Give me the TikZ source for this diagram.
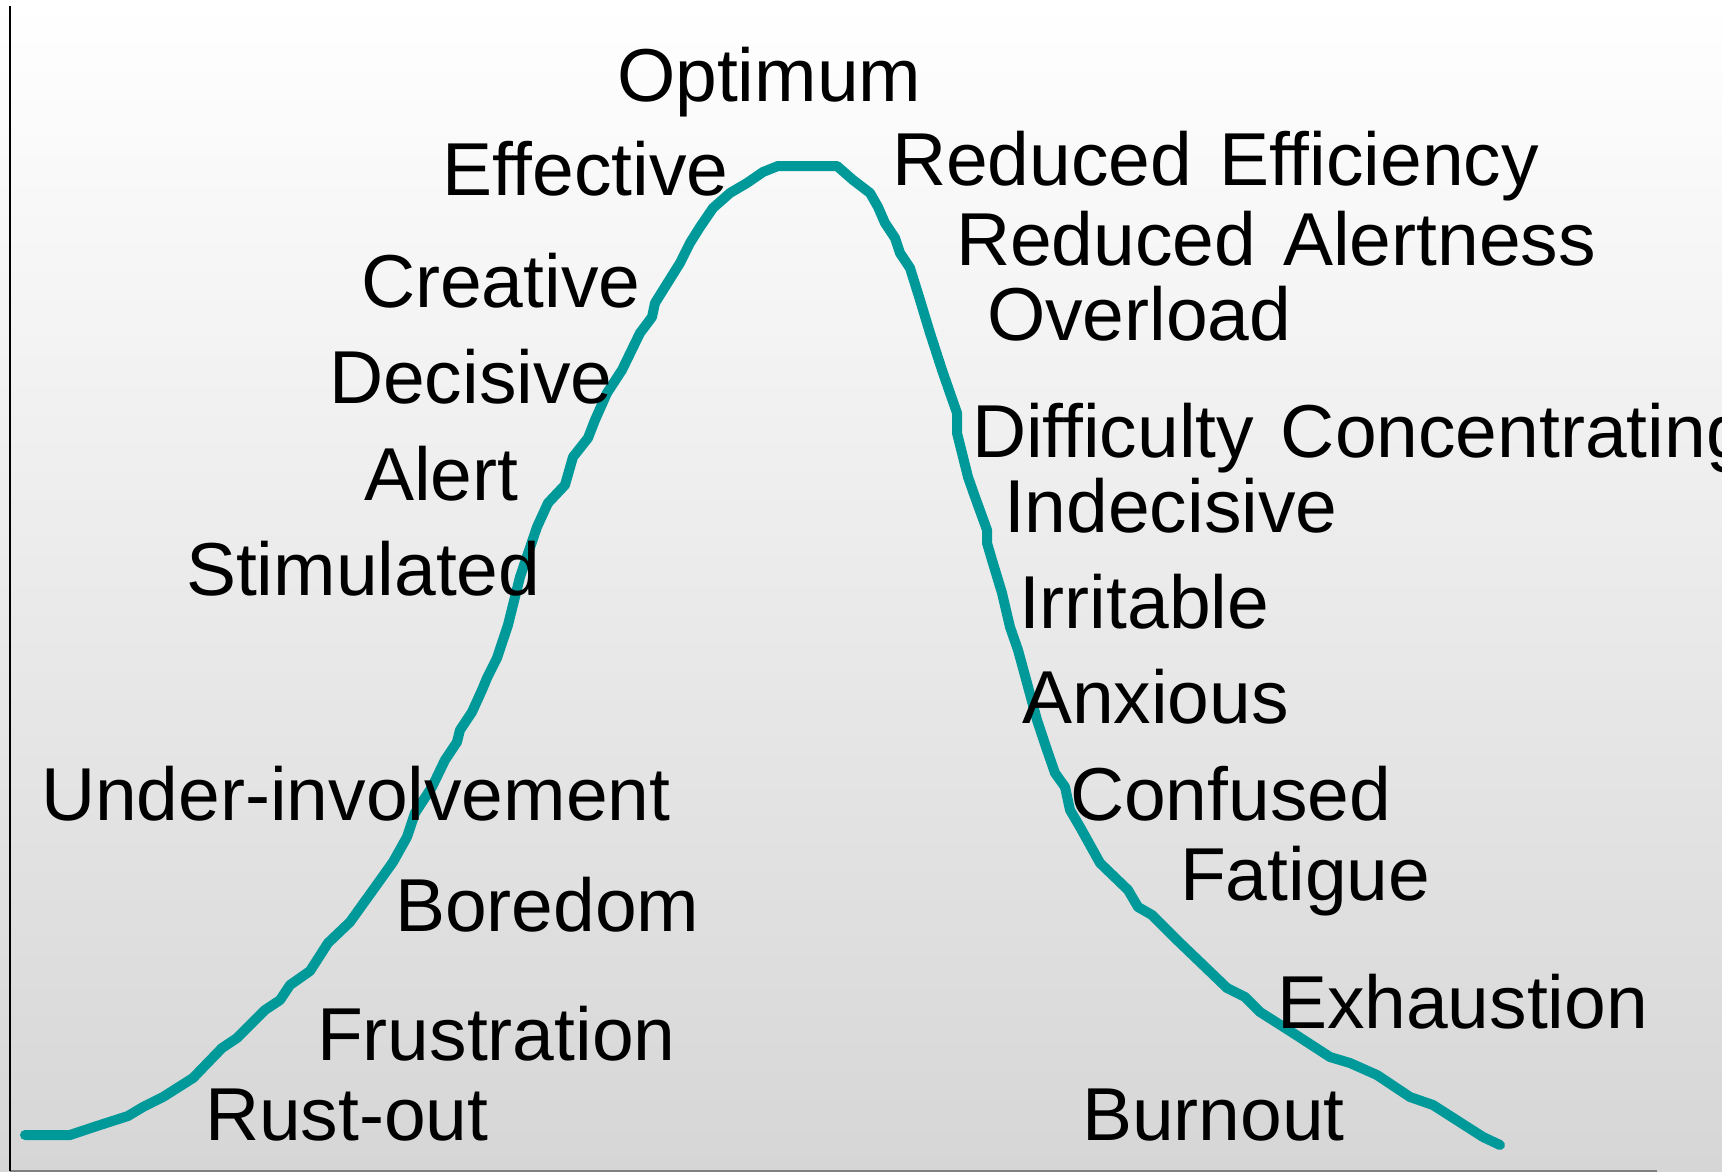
\documentclass[tikz,border=0pt]{standalone}
\usepackage{fontspec}
\setmainfont[Ligatures=NoCommon]{Liberation Sans}
\definecolor{curveteal}{RGB}{0,153,153}
\definecolor{bgbottom}{RGB}{214,214,214}
\definecolor{axisgray}{RGB}{128,128,128}
\newcommand{\labelfont}{\fontsize{75}{80}\selectfont\spaceskip 27pt\relax}
\begin{document}
\begin{tikzpicture}[x=1pt,y=-1pt,
  lbl/.style={anchor=base west,inner sep=0pt,outer sep=0pt,
    font=\labelfont,text=black},
  stresscurve/.style={draw=curveteal,line width=10pt,line cap=round,line join=round}]
\useasboundingbox (0,0) rectangle (1722,1172);
\clip (0,0) rectangle (1722,1172);
% background gradient
\shade[top color=white,bottom color=bgbottom] (0,0) rectangle (1722,1172);
% axes
\coordinate (ytop) at (10,6);
\coordinate (origin) at (10,1171);
\coordinate (xend) at (1657,1171);
\draw[axisgray,line width=2pt] (origin) -- (xend);
\draw[black,line width=2.5pt] (ytop) -- (origin);
% performance curve
\draw[stresscurve] (25,1135) -- (70,1135) -- (97,1126) -- (128,1116) -- (143,1107)
  -- (163,1097) -- (193,1078) -- (222,1048) -- (237,1038) -- (265,1010) -- (280,1000)
  -- (290,985) -- (310,971) -- (328,943) -- (350,922) -- (373,890) -- (393,862)
  -- (407,837) -- (415,813) -- (432,787) -- (445,760) -- (457,742) -- (460,730)
  -- (472,712) -- (482,690) -- (487,678) -- (497,658) -- (508,625) -- (520,577)
  -- (537,527) -- (548,503) -- (565,485) -- (573,457) -- (588,438) -- (595,420)
  -- (607,393) -- (622,370) -- (640,333) -- (652,317) -- (655,303) -- (680,263)
  -- (690,243) -- (700,227) -- (713,208) -- (730,193) -- (747,183) -- (763,172)
  -- (778,166) -- (837,166) -- (853,180) -- (870,193) -- (878,207) -- (885,223)
  -- (895,238) -- (900,253) -- (910,268) -- (920,300) -- (930,333) -- (942,370)
  -- (950,393) -- (957,413) -- (957,433) -- (963,457) -- (968,477) -- (975,497)
  -- (987,530) -- (987,543) -- (992,560) -- (1002,593) -- (1010,627) -- (1018,650)
  -- (1027,683) -- (1037,720) -- (1047,750) -- (1055,773) -- (1065,787) -- (1070,810)
  -- (1080,827) -- (1100,863) -- (1128,890) -- (1138,907) -- (1152,915) -- (1177,940)
  -- (1227,988) -- (1245,997) -- (1260,1012) -- (1293,1033) -- (1330,1057)
  -- (1350,1063) -- (1377,1075) -- (1410,1097) -- (1433,1105) -- (1483,1137)
  -- (1500,1145);
% rising side labels
\node[lbl] (optimum) at (617,101) {Optimum};
\node[lbl] (effective) at (442,195) {Effective};
\node[lbl] (creative) at (361,307) {Creative};
\node[lbl] (decisive) at (329,403) {Decisive};
\node[lbl] (alert) at (364,500) {Alert};
\node[lbl] (stimulated) at (186,595) {Stimulated};
\node[lbl] (underinv) at (41,820) {Under-involvement};
\node[lbl] (boredom) at (395,931) {Boredom};
\node[lbl] (frustration) at (317,1060) {Frustration};
\node[lbl] (rustout) at (205,1140) {Rust-out};
% falling side labels
\node[lbl] (redeff) at (892,185) {Reduced Efficiency};
\node[lbl] (redalert) at (956,265) {Reduced Alertness};
\node[lbl] (overload) at (987,340) {Overload};
\node[lbl] (difficulty) at (972,457) {Difficulty Concentrating};
\node[lbl] (indecisive) at (1004,532) {Indecisive};
\node[lbl] (irritable) at (1019,628) {Irritable};
\node[lbl] (anxious) at (1022,723) {Anxious};
\node[lbl] (confused) at (1070,820) {Confused};
\node[lbl] (fatigue) at (1180,900) {Fatigue};
\node[lbl] (exhaustion) at (1277,1028) {Exhaustion};
\node[lbl] (burnout) at (1082,1140) {Burnout};
\end{tikzpicture}
\end{document}
